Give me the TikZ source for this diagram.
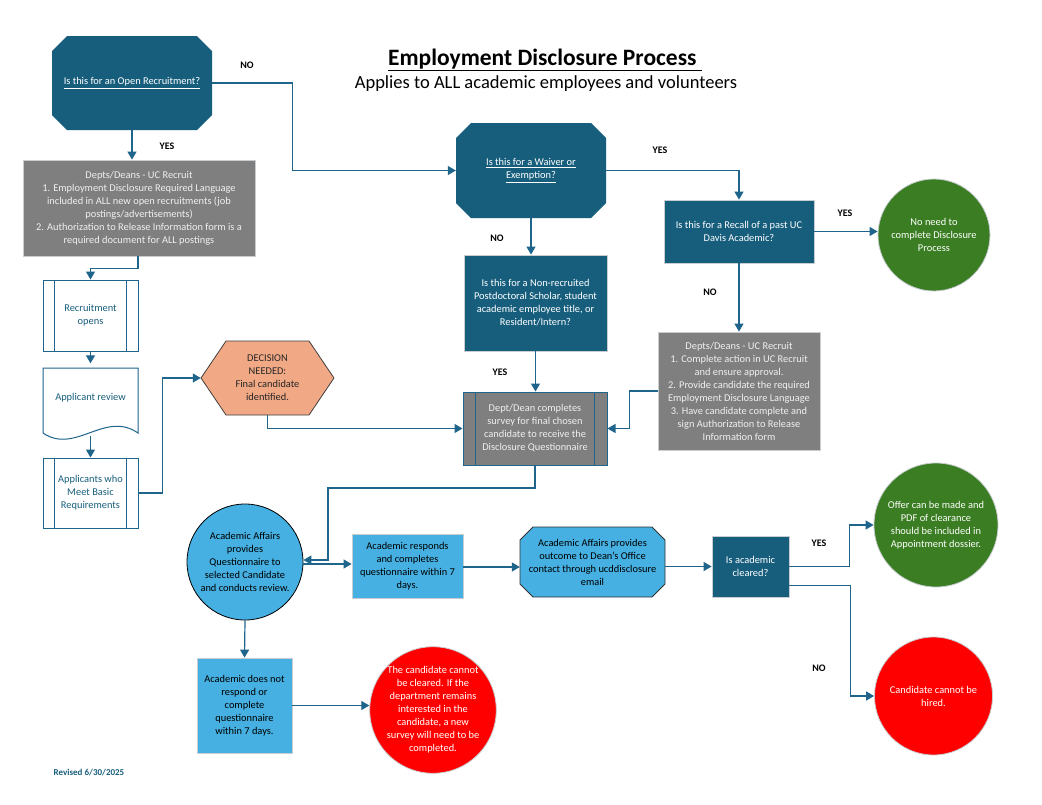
\documentclass[tikz,border=0pt]{standalone}
\usepackage{fontspec}
\setmainfont{Carlito}
\usetikzlibrary{arrows.meta,calc}
\definecolor{ln}{RGB}{31,100,138}
\definecolor{dteal}{RGB}{23,94,125}
\definecolor{gbox}{RGB}{127,127,127}
\definecolor{lblue}{RGB}{69,176,225}
\definecolor{dgreen}{RGB}{58,125,34}
\definecolor{rred}{RGB}{255,0,0}
\definecolor{salmon}{RGB}{241,168,132}
\definecolor{edge}{RGB}{200,205,210}
\definecolor{gtext}{RGB}{240,240,240}
\begin{document}
\begin{tikzpicture}[x=1pt,y=-1pt,
  txt/.style={font=\fontsize{10.4}{13}\selectfont, align=center, inner sep=0pt},
  arr/.style={draw=ln, line width=1.2pt, -{Triangle[width=9pt,length=8pt]}},
  plain/.style={draw=ln, line width=1.2pt},
  lab/.style={font=\fontsize{10}{12}\selectfont\bfseries, inner sep=0pt},
  darkbox/.style={txt, fill=dteal, draw=edge, line width=0.8pt, text=white},
  graybox/.style={txt, fill=gbox, draw=edge, line width=0.8pt, text=gtext},
  bluebox/.style={txt, fill=lblue, draw=edge, line width=0.8pt, text=black},
  procbox/.style={txt, fill=white, draw=ln, line width=1pt, text=dteal},
  circ/.style={txt, circle, line width=0.8pt}
]
\useasboundingbox[fill=white] (0,0) rectangle (1042,804);

% Title
\node[font=\fontsize{23.5}{27}\selectfont\bfseries, inner sep=0pt] (title) at (545,60) {\underline{Employment Disclosure Process\ }};
\node[font=\fontsize{18.5}{22}\selectfont, inner sep=0pt] (sub) at (546,84) {Applies to ALL academic employees and volunteers};

% Octagon 1: Open Recruitment
\fill[dteal] (67,36) -- (197,36) -- (212,51) -- (212,115) -- (197,130) -- (67,130) -- (52,115) -- (52,51) -- cycle;
\node[txt, text=white, minimum width=160pt, minimum height=94pt] (oct1) at (132,83) {\underline{Is this for an Open Recruitment?}};

% Depts box 1
\node[graybox, minimum width=232pt, minimum height=96pt] (dep1) at (139,208) {Depts/Deans - UC Recruit\\1. Employment Disclosure Required Language\\included in ALL new open recruitments (job\\postings/advertisements)\\2. Authorization to Release Information form is a\\required document for ALL postings};

% Waiver octagon
\fill[dteal] (471,123) -- (591,123) -- (606,138) -- (606,203) -- (591,218) -- (471,218) -- (456,203) -- (456,138) -- cycle;
\node[txt, text=white, minimum width=150pt, minimum height=95pt] (waiv) at (531,170.5) {\underline{Is this for a Waiver or}\\\underline{Exemption?}};

% Recall
\node[darkbox, minimum width=150pt, minimum height=63pt] (recall) at (739,231.5) {Is this for a Recall of a past UC\\Davis Academic?};

% Green 1
\node[circ, fill=dgreen, draw=edge, text=white, minimum size=112pt] (green1) at (934,235) {No need to\\complete Disclosure\\Process};

% Gray box 2
\node[graybox, minimum width=162pt, minimum height=118pt] (gray2) at (739,391) {Depts/Deans - UC Recruit\\1. Complete action in UC Recruit\\and ensure approval.\\2. Provide candidate the required\\Employment Disclosure Language\\3. Have candidate complete and\\sign Authorization to Release\\Information form};

% Non-recruited
\node[darkbox, minimum width=143pt, minimum height=96pt] (nonrec) at (535.5,303) {Is this for a Non-recruited\\Postdoctoral Scholar, student\\academic employee title, or\\Resident/Intern?};

% Dept/Dean box (predefined process)
\node[txt, fill=gbox, draw=ln, line width=1pt, text=gtext, minimum width=144pt, minimum height=73pt] (dept) at (535,428.5) {Dept/Dean completes\\survey for final chosen\\candidate to receive the\\Disclosure Questionnaire};
\draw[ln, line width=1pt] ([xshift=13pt]dept.north west) -- ([xshift=13pt]dept.south west);
\draw[ln, line width=1pt] ([xshift=-13pt]dept.north east) -- ([xshift=-13pt]dept.south east);

% Hexagon
\filldraw[fill=salmon, draw=black!75, line width=0.8pt] (201,378) -- (226,341) -- (309,341) -- (334,378) -- (309,415) -- (226,415) -- cycle;
\node[txt, text=black!85, minimum width=133pt, minimum height=74pt] (hex) at (267.5,378) {DECISION\\NEEDED:\\Final candidate\\identified.};

% Recruitment opens
\node[procbox, minimum width=95pt, minimum height=71pt] (recop) at (90.5,315.5) {Recruitment\\opens};
\draw[ln, line width=1pt] ([xshift=12pt]recop.north west) -- ([xshift=12pt]recop.south west);
\draw[ln, line width=1pt] ([xshift=-12pt]recop.north east) -- ([xshift=-12pt]recop.south east);

% Applicant review (document)
\filldraw[fill=white, draw=ln, line width=1pt] (43,368) -- (138,368) -- (138,433) .. controls (105,410) and (75,455) .. (43,433) -- cycle;
\node[txt, text=dteal, minimum width=95pt, minimum height=69pt] (apprev) at (90.5,398) {Applicant review};
\coordinate (apprevb) at (90.5,436);

% Applicants who meet
\node[procbox, minimum width=95pt, minimum height=70pt] (appl) at (90.5,493) {Applicants who\\Meet Basic\\Requirements};
\draw[ln, line width=1pt] ([xshift=12pt]appl.north west) -- ([xshift=12pt]appl.south west);
\draw[ln, line width=1pt] ([xshift=-12pt]appl.north east) -- ([xshift=-12pt]appl.south east);

% Academic Affairs circle
\node[circ, fill=lblue, draw=black, text=black, minimum size=116pt] (circ) at (245,562) {Academic Affairs\\provides\\Questionnaire to\\selected Candidate\\and conducts review.};

% Academic responds
\node[bluebox, minimum width=111pt, minimum height=64pt] (resp) at (407.5,566) {Academic responds\\and completes\\questionnaire within 7\\days.};

% Outcome octagon
\filldraw[fill=lblue, draw=black!80, line width=0.8pt] (533,527) -- (652,527) -- (665,540) -- (665,584) -- (652,597) -- (533,597) -- (520,584) -- (520,540) -- cycle;
\node[txt, text=black, minimum width=145pt, minimum height=70pt] (outc) at (592.5,562) {Academic Affairs provides\\outcome to Dean’s Office\\contact through ucddisclosure\\email};

% Is academic cleared
\node[darkbox, minimum width=77pt, minimum height=61pt] (clear) at (750.5,566.5) {Is academic\\cleared?};

% Green 2
\node[circ, fill=dgreen, draw=edge, text=white, minimum size=124pt] (green2) at (936,525) {Offer can be made and\\PDF of clearance\\should be included in\\Appointment dossier.};

% Red 2
\node[circ, fill=rred, draw=edge, text=white, minimum size=118pt] (red2) at (933.5,696) {Candidate cannot be\\hired.};

% Does not respond
\node[bluebox, minimum width=95pt, minimum height=95pt] (nores) at (244.5,705.5) {Academic does not\\respond or\\complete\\questionnaire\\within 7 days.};

% Red 1
\node[circ, fill=rred, draw=edge, text=white, minimum size=126pt] (red1) at (433,710) {The candidate cannot\\be cleared. If the\\department remains\\interested in the\\candidate, a new\\survey will need to be\\completed.};

% Revised
\node[font=\fontsize{9}{11}\selectfont\bfseries, text=dteal, inner sep=0pt] (rev) at (89,773) {Revised 6/30/2025};

% Labels
\node[lab] (no1) at (247,65) {NO};
\node[lab] (yes1) at (167,146) {YES};
\node[lab] (yes2) at (660,150) {YES};
\node[lab] (no2) at (497,238) {NO};
\node[lab] (yes3) at (845,213) {YES};
\node[lab] (no3) at (710,292) {NO};
\node[lab] (yes4) at (500,372) {YES};
\node[lab] (yes5) at (819,543) {YES};
\node[lab] (no4) at (819,668) {NO};

% Connectors
\draw[arr] (oct1.south) -- (oct1.south |- dep1.north);
\draw[arr] (oct1.east) -- ++(80,0) |- (waiv.west);
\draw[arr] (waiv.east) -| (recall.north);
\draw[arr] (recall.east) -- (recall.east -| green1.west);
\draw[arr] (recall.south) -- (gray2.north);
\draw[arr] (gray2.west) -- ++(-28,0) |- (dept.east);
\draw[arr] (waiv.south) -- (waiv.south |- nonrec.north);
\draw[arr] (nonrec.south) -- (nonrec.south |- dept.north);
\draw[arr] (hex.south) |- (dept.west);
\draw[arr] ([xshift=-1pt]dep1.south) -- ++(0,12) -| (recop.north);
\draw[arr] (recop.south) -- (apprev.north);
\draw[arr] (apprevb) -- (appl.north);
\draw[arr] (appl.east) -- ++(24,0) |- (hex.west);
\coordinate (k1) at (328,488);
\draw[arr] (dept.south) |- (k1) |- ([yshift=2pt]circ.east);
\draw[arr] ([yshift=-2pt]circ.east) -- ([yshift=-2pt]circ.east -| resp.west);
\draw[arr] ([yshift=-1pt]resp.east) -- ([yshift=-1pt]resp.east -| outc.west);
\draw[arr] (outc.east |- clear.west) -- (clear.west);
\draw[arr] (clear.east) -- ++(60,0) |- (green2.west);
\draw[arr] ([yshift=-19pt]clear.east) -- ++(61,0) |- (red2.west);
\draw[arr] (circ.south) -- (nores.north);
\draw[arr] (nores.east) -- (nores.east -| red1.west);
\end{tikzpicture}
\end{document}
